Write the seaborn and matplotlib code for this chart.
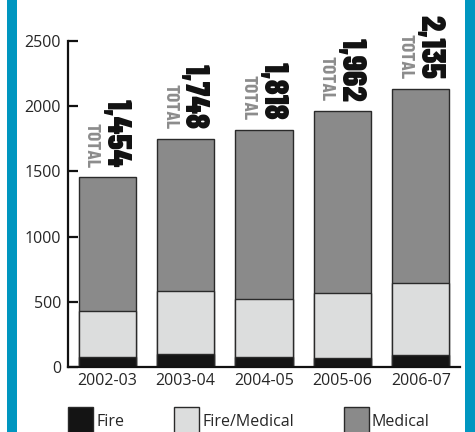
import matplotlib
matplotlib.use("Agg")
import matplotlib.pyplot as plt
from matplotlib.patches import Patch, Rectangle
import seaborn as sns
import pandas as pd

# Service calls per fiscal year
seasons = ["2002-03", "2003-04", "2004-05", "2005-06", "2006-07"]
fire = [77, 97, 77, 70, 90]
fire_medical = [354, 483, 446, 494, 551]
totals = [1454, 1748, 1818, 1962, 2135]
total_labels = ["1,454", "1,748", "1,818", "1,962", "2,135"]

c_fire = "#141414"
c_firemed = "#dcdddd"
c_med = "#8a8a8a"
c_edge = "#2a2a2a"
c_border = "#0096c0"

sns.set_theme(style="white")
plt.rcParams["font.family"] = ["Open Sans", "DejaVu Sans"]
cond = ["Barlow Condensed", "DejaVu Sans"]

df = pd.DataFrame({
    "season": seasons,
    "fire": fire,
    "fire_medical": fire_medical,
    "total": totals,
})
df["lower_two"] = df["fire"] + df["fire_medical"]

dpi = 100
fig = plt.figure(figsize=(4.75, 4.32), dpi=dpi)
ax = fig.add_axes([68 / 475, 1 - 367 / 432, 392 / 475, 326 / 432])

# stacked bars drawn as overlapping cumulative layers
for col, color in [("total", c_med), ("lower_two", c_firemed), ("fire", c_fire)]:
    sns.barplot(data=df, x="season", y=col, color=color, width=0.73,
                edgecolor=c_edge, linewidth=1.0, saturation=1, ax=ax)

ax.set_xlim(-0.5, 4.5)
ax.set_ylim(0, 2500)
ax.set_yticks([0, 500, 1000, 1500, 2000, 2500])
ax.set_xlabel("")
ax.set_ylabel("")
for s in ["top", "right"]:
    ax.spines[s].set_visible(False)
for s in ["left", "bottom"]:
    ax.spines[s].set_color("#111111")
    ax.spines[s].set_linewidth(1.6)
ax.tick_params(axis="y", direction="in", length=7, width=1.6, color="#111111",
               labelsize=11.5, pad=5, left=True)
ax.tick_params(axis="x", length=0, labelsize=11.5, pad=4)

# rotated totals above each bar
for i, (t, lab) in enumerate(zip(totals, total_labels)):
    ax.annotate(lab, xy=(i, t), xytext=(6, 7), textcoords="offset points",
                rotation=-90, ha="center", va="bottom", fontsize=24,
                fontweight=900, family=cond,
                color="#111111", annotation_clip=False)
    ax.annotate("TOTAL", xy=(i, t), xytext=(-11.5, 7), textcoords="offset points",
                rotation=-90, ha="center", va="bottom", fontsize=14,
                fontweight=700, family=cond,
                color="#8c8c8c", annotation_clip=False)

# legend
fs = 11.5
fs_px = fs * dpi / 72
handles = [Patch(facecolor=c_fire, edgecolor=c_edge, linewidth=1.0, label="Fire"),
           Patch(facecolor=c_firemed, edgecolor=c_edge, linewidth=1.0, label="Fire/Medical"),
           Patch(facecolor=c_med, edgecolor=c_edge, linewidth=1.0, label="Medical")]
fig.legend(handles=handles, loc="upper left", bbox_to_anchor=(68 / 475, 1 - 407 / 432),
           ncol=3, frameon=False, fontsize=fs, borderpad=0, borderaxespad=0,
           handlelength=25 / fs_px, handleheight=36 / fs_px,
           handletextpad=3 / fs_px, columnspacing=50 / fs_px)

# side frame bars
fig.patches.append(Rectangle((7 / 475, 0), 10 / 475, 1, transform=fig.transFigure,
                             facecolor=c_border, edgecolor="none", zorder=10))
fig.patches.append(Rectangle((465 / 475, 0), 10 / 475, 1, transform=fig.transFigure,
                             facecolor=c_border, edgecolor="none", zorder=10))

fig.savefig("out.png", dpi=dpi)
